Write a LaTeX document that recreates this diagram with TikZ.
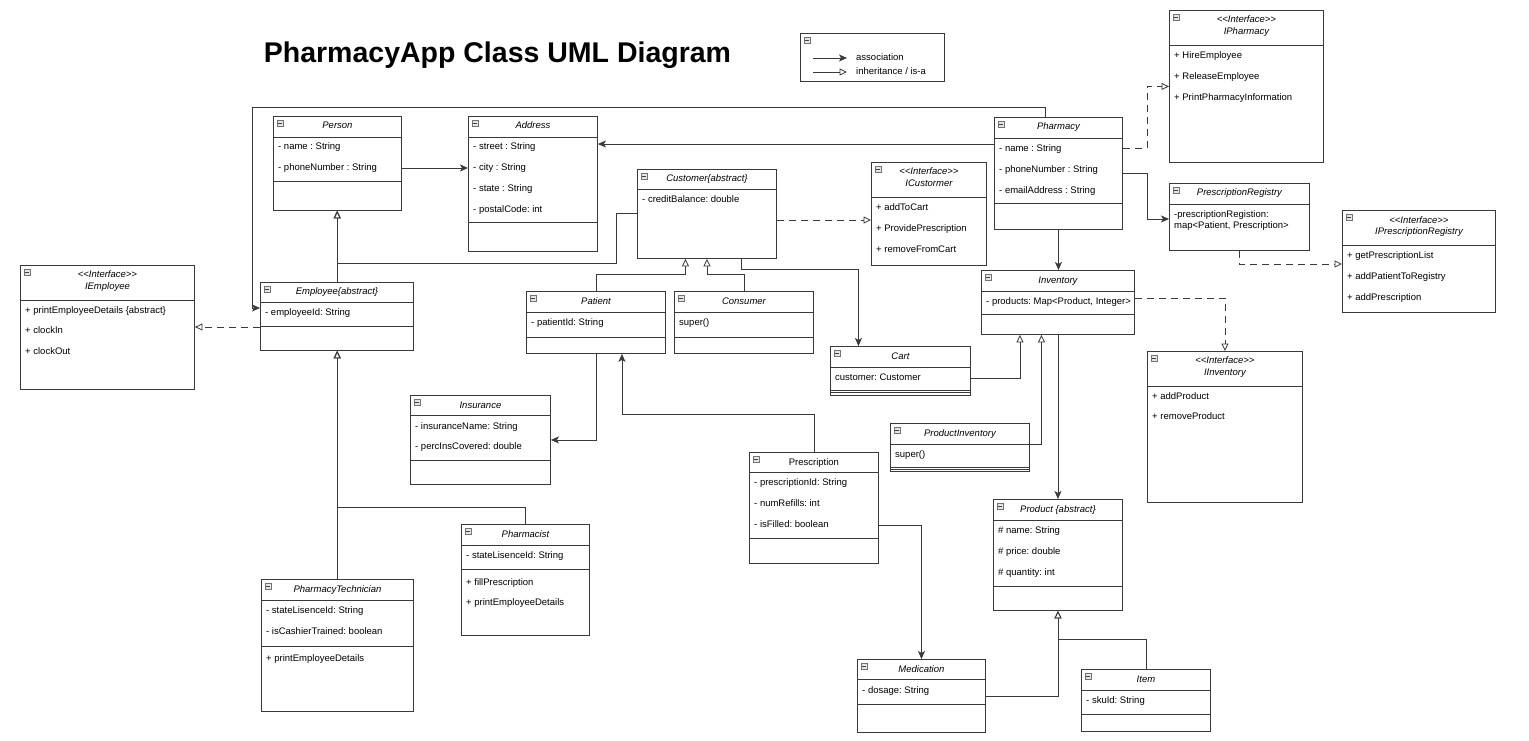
\documentclass[tikz,border=0pt]{standalone}
\usepackage{fontspec}
\setmainfont{Liberation Sans}
\usetikzlibrary{arrows.meta}
\definecolor{linegray}{HTML}{3A3A3A}
\newcommand{\umlfont}{\fontsize{9.5}{11}\selectfont\frenchspacing}
\tikzset{
  cls/.style={draw=linegray, line width=0.9pt, fill=white, anchor=north west, inner sep=0pt,
    path picture={
      \draw[black!55, fill=black!10, line width=0.5pt] ([shift={(3.5pt,-3.5pt)}]path picture bounding box.north west) rectangle ++(6pt,-6pt);
      \draw[black!75, line width=0.6pt] ([shift={(4.8pt,-6.5pt)}]path picture bounding box.north west) -- ++(3.4pt,0pt);}},
  ctitle/.style={font=\umlfont\itshape, inner sep=0pt, text height=7pt, text depth=2pt},
  field/.style={font=\umlfont, anchor=west, inner sep=0pt, text height=7pt, text depth=2pt},
  divider/.style={draw=linegray, line width=0.9pt},
  assoc/.style={draw=linegray, line width=0.8pt, -{Stealth[length=8pt,width=7pt,inset=2pt]}},
  inherit/.style={draw=linegray, line width=0.8pt, -{Triangle[open,length=7.5pt,width=7pt]}},
  realize/.style={inherit, dash pattern=on 7pt off 5pt},
}
\begin{document}
\begin{tikzpicture}[x=1pt, y=-1pt]
    \fill[white] (0,0) rectangle (1529,741);
    \useasboundingbox (0,0) rectangle (1529,741);

    % Titre
    \node[font=\bfseries\fontsize{28.5}{32}\selectfont, anchor=base] (title) at (497.5,63) {PharmacyApp Class UML Diagram};

    % Legende
    \node[cls, minimum width=144, minimum height=48] (legend) at (800,33) {};
    \draw[assoc] ([shift={(13pt,-25pt)}]legend.north west) -- ++(34,0);
    \draw[inherit] ([shift={(13pt,-39pt)}]legend.north west) -- ++(34,0);
    \node[field] at ([shift={(56pt,-25pt)}]legend.north west) {association};
    \node[field] at ([shift={(56pt,-39pt)}]legend.north west) {inheritance / is-a};

    % Person
    \node[cls, minimum width=128, minimum height=94] (person) at (273,116) {};
    \node[ctitle] at ([yshift=-10.5pt]person.north) {Person};
    \draw[divider] (273,137) -- (401,137);
    \draw[divider] (273,181) -- (401,181);
    \node[field] at (278,147) {- name : String};
    \node[field] (person-phone) at (278,168) {- phoneNumber : String};

    % Address
    \node[cls, minimum width=129, minimum height=135] (address) at (468,116) {};
    \node[ctitle] at ([yshift=-10.5pt]address.north) {Address};
    \draw[divider] (468,137) -- (597,137);
    \draw[divider] (468,222) -- (597,222);
    \node[field] at (473,147) {- street : String};
    \node[field] at (473,168) {- city : String};
    \node[field] at (473,189) {- state : String};
    \node[field] at (473,210) {- postalCode: int};

    % Customer
    \node[cls, minimum width=139, minimum height=89] (customer) at (637,169) {};
    \node[ctitle] at ([yshift=-10pt]customer.north) {Customer\{abstract\}};
    \draw[divider] (637,189) -- (776,189);
    \node[field] at (642,200) {- creditBalance: double};

    % ICustomer
    \node[cls, minimum width=115, minimum height=103] (icustomer) at (871,162) {};
    \node[ctitle] at ([yshift=-10.5pt]icustomer.north) {<\kern0pt<Interface>\kern0pt>};
    \node[ctitle] at ([yshift=-21.5pt]icustomer.north) {ICustormer};
    \draw[divider] (871,197) -- (986,197);
    \node[field] at (876,208) {+ addToCart};
    \node[field] at (876,229) {+ ProvidePrescription};
    \node[field] at (876,250) {+ removeFromCart};

    % Pharmacy
    \node[cls, minimum width=128, minimum height=112] (pharmacy) at (994,117) {};
    \node[ctitle] at ([yshift=-10.5pt]pharmacy.north) {Pharmacy};
    \draw[divider] (994,138) -- (1122,138);
    \draw[divider] (994,203) -- (1122,203);
    \node[field] at (999,149) {- name : String};
    \node[field] at (999,170) {- phoneNumber : String};
    \node[field] at (999,191) {- emailAddress : String};

    % IPharmacy
    \node[cls, minimum width=154, minimum height=152] (ipharmacy) at (1169,10) {};
    \node[ctitle] at ([yshift=-10.5pt]ipharmacy.north) {<\kern0pt<Interface>\kern0pt>};
    \node[ctitle] at ([yshift=-22pt]ipharmacy.north) {IPharmacy};
    \draw[divider] (1169,45) -- (1323,45);
    \node[field] at (1174,56) {+ HireEmployee};
    \node[field] at (1174,77) {+ ReleaseEmployee};
    \node[field] at (1174,98) {+ PrintPharmacyInformation};

    % PrescriptionRegistry
    \node[cls, minimum width=140, minimum height=67] (presreg) at (1169,183) {};
    \node[ctitle] at ([yshift=-10.5pt]presreg.north) {PrescriptionRegistry};
    \draw[divider] (1169,204) -- (1309,204);
    \node[field] at (1174,215) {-prescriptionRegistion:};
    \node[field] at (1174,226) {map<Patient, Prescription>};

    % IPrescriptionRegistry
    \node[cls, minimum width=153, minimum height=102] (ipresreg) at (1342,210) {};
    \node[ctitle] at ([yshift=-10.5pt]ipresreg.north) {<\kern0pt<Interface>\kern0pt>};
    \node[ctitle] at ([yshift=-22pt]ipresreg.north) {IPrescriptionRegistry};
    \draw[divider] (1342,245) -- (1495,245);
    \node[field] at (1347,256) {+ getPrescriptionList};
    \node[field] at (1347,277) {+ addPatientToRegistry};
    \node[field] at (1347,298) {+ addPrescription};

    % IEmployee
    \node[cls, minimum width=174, minimum height=124] (iemployee) at (20,265) {};
    \node[ctitle] at ([yshift=-10pt]iemployee.north) {<\kern0pt<Interface>\kern0pt>};
    \node[ctitle] at ([yshift=-22pt]iemployee.north) {IEmployee};
    \draw[divider] (20,300) -- (194,300);
    \node[field] at (25,311) {+ printEmployeeDetails \{abstract\}};
    \node[field] at (25,331) {+ clockIn};
    \node[field] at (25,352) {+ clockOut};

    % Employee
    \node[cls, minimum width=153, minimum height=68] (employee) at (260,282) {};
    \node[ctitle] at ([yshift=-10pt]employee.north) {Employee\{abstract\}};
    \draw[divider] (260,302) -- (413,302);
    \draw[divider] (260,326) -- (413,326);
    \node[field] at (265,313) {- employeeId: String};

    % Patient
    \node[cls, minimum width=139, minimum height=62] (patient) at (526,291) {};
    \node[ctitle] at ([yshift=-10.5pt]patient.north) {Patient};
    \draw[divider] (526,312) -- (665,312);
    \draw[divider] (526,337) -- (665,337);
    \node[field] at (531,323) {- patientId: String};

    % Consumer
    \node[cls, minimum width=139, minimum height=62] (consumer) at (674,291) {};
    \node[ctitle] at ([yshift=-10.5pt]consumer.north) {Consumer};
    \draw[divider] (674,312) -- (813,312);
    \draw[divider] (674,337) -- (813,337);
    \node[field] at (679,323) {super()};

    % Cart
    \node[cls, minimum width=140, minimum height=48.5] (cart) at (830,346) {};
    \node[ctitle] at ([yshift=-10.5pt]cart.north) {Cart};
    \draw[divider] (830,367) -- (970,367);
    \draw[divider] (830,390.5) -- (970,390.5);
    \draw[divider] (830,392.5) -- (970,392.5);
    \node[field] (cart-cust) at (835,378) {customer: Customer};

    % Inventory
    \node[cls, minimum width=153, minimum height=64] (inventory) at (981,270) {};
    \node[ctitle] at ([yshift=-10.5pt]inventory.north) {Inventory};
    \draw[divider] (981,291) -- (1134,291);
    \draw[divider] (981,314) -- (1134,314);
    \node[field] at (986,302) {- products: Map<Product, Integer>};

    % IInventory
    \node[cls, minimum width=155, minimum height=151] (iinventory) at (1147,351) {};
    \node[ctitle] at ([yshift=-10pt]iinventory.north) {<\kern0pt<Interface>\kern0pt>};
    \node[ctitle] at ([yshift=-21.5pt]iinventory.north) {IInventory};
    \draw[divider] (1147,386) -- (1302,386);
    \node[field] at (1152,397) {+ addProduct};
    \node[field] at (1152,417) {+ removeProduct};

    % ProductInventory
    \node[cls, minimum width=139, minimum height=48] (prodinv) at (890,423) {};
    \node[ctitle] at ([yshift=-10.5pt]prodinv.north) {ProductInventory};
    \draw[divider] (890,444) -- (1029,444);
    \draw[divider] (890,467) -- (1029,467);
    \draw[divider] (890,469) -- (1029,469);
    \node[field] at (895,455) {super()};

    % Insurance
    \node[cls, minimum width=140, minimum height=89] (insurance) at (410,395) {};
    \node[ctitle] at ([yshift=-10.5pt]insurance.north) {Insurance};
    \draw[divider] (410,415) -- (550,415);
    \draw[divider] (410,460) -- (550,460);
    \node[field] at (415,427) {- insuranceName: String};
    \node[field] at (415,447) {- percInsCovered: double};

    % Prescription
    \node[cls, minimum width=129, minimum height=111] (prescription) at (749,452) {};
    \node[ctitle, font=\umlfont] at ([yshift=-10.5pt]prescription.north) {Prescription};
    \draw[divider] (749,472) -- (878,472);
    \draw[divider] (749,538) -- (878,538);
    \node[field] at (754,483) {- prescriptionId: String};
    \node[field] at (754,504) {- numRefills: int};
    \node[field] (presc-filled) at (754,525) {- isFilled: boolean};

    % Product
    \node[cls, minimum width=129, minimum height=111] (product) at (993,499) {};
    \node[ctitle] at ([yshift=-10.5pt]product.north) {Product \{abstract\}};
    \draw[divider] (993,520) -- (1122,520);
    \draw[divider] (993,586) -- (1122,586);
    \node[field] at (998,531) {\# name: String};
    \node[field] at (998,552) {\# price: double};
    \node[field] at (998,573) {\# quantity: int};

    % Pharmacist
    \node[cls, minimum width=128, minimum height=111] (pharmacist) at (461,524) {};
    \node[ctitle] at ([yshift=-10.5pt]pharmacist.north) {Pharmacist};
    \draw[divider] (461,545) -- (589,545);
    \draw[divider] (461,569) -- (589,569);
    \node[field] at (466,556) {- stateLisenceId: String};
    \node[field] at (466,583) {+ fillPrescription};
    \node[field] at (466,603) {+ printEmployeeDetails};

    % PharmacyTechnician
    \node[cls, minimum width=152, minimum height=132] (technician) at (261,579) {};
    \node[ctitle] at ([yshift=-10.5pt]technician.north) {PharmacyTechnician};
    \draw[divider] (261,600) -- (413,600);
    \draw[divider] (261,646) -- (413,646);
    \node[field] at (266,611) {- stateLisenceId: String};
    \node[field] at (266,632) {- isCashierTrained: boolean};
    \node[field] at (266,659) {+ printEmployeeDetails};

    % Medication
    \node[cls, minimum width=128, minimum height=73] (medication) at (857,659) {};
    \node[ctitle] at ([yshift=-10.5pt]medication.north) {Medication};
    \draw[divider] (857,679) -- (985,679);
    \draw[divider] (857,704) -- (985,704);
    \node[field] at (862,691) {- dosage: String};

    % Item
    \node[cls, minimum width=129, minimum height=62] (item) at (1081,669) {};
    \node[ctitle] at ([yshift=-10.5pt]item.north) {Item};
    \draw[divider] (1081,690) -- (1210,690);
    \draw[divider] (1081,714) -- (1210,714);
    \node[field] at (1086,701) {- skuId: String};

    % Associations
    \draw[assoc] (person.east |- person-phone) -- (address.west |- person-phone);
    \draw[assoc] (pharmacy.west |- 0,144) -- (address.east |- 0,144);
    \draw[assoc] ([xshift=-13pt]pharmacy.north) |- (252,107) |- (employee.west |- 0,308);
    \draw[assoc] ([xshift=34pt]customer.south) -- ++(0,10) -| ([xshift=-42pt]cart.north);
    \draw[assoc] (patient.south) |- (insurance.east);
    \draw[assoc] (prescription.north) -- ++(0,-38) -| ([xshift=26pt]patient.south);
    \draw[assoc] (prescription.east |- presc-filled) -| (medication.north);
    \draw[assoc] (pharmacy.south) -- (pharmacy.south |- inventory.north);
    \draw[assoc] (inventory.south) -- (product.north);
    \draw[assoc] (pharmacy.east |- 0,173) -- ++(24,0) |- (presreg.west |- 0,219);

    % Heritage
    \draw[inherit] (employee.north) -- (employee.north |- person.south);
    \draw[inherit] (customer.west |- 0,213) -| (616,263) -| (person.south);
    \draw[inherit] (patient.north) -- ++(0,-17) -| ([xshift=-21.5pt]customer.south);
    \draw[inherit] (consumer.north) -- ++(0,-17) -| (customer.south);
    \draw[inherit] (technician.north) -- (technician.north |- employee.south);
    \draw[inherit] (pharmacist.north) -- ++(0,-17) -| (employee.south);
    \draw[inherit] (cart.east |- cart-cust) -| ([xshift=-38pt]inventory.south);
    \draw[inherit] (prodinv.east |- 0,444) -| ([xshift=-16.5pt]inventory.south);
    \draw[inherit] (medication.east |- 0,696) -| (product.south);
    \draw[inherit] (item.north) -- ++(0,-30) -| (product.south);

    % Interfaces
    \draw[realize] (employee.west |- 0,327) -- (iemployee.east |- 0,327);
    \draw[realize] (customer.east |- 0,220) -- (icustomer.west |- 0,220);
    \draw[realize] (pharmacy.east |- 0,148) -- ++(24,0) |- (ipharmacy.west);
    \draw[realize] (presreg.south) |- (ipresreg.west |- 0,264);
    \draw[realize] (inventory.east |- 0,298) -| (iinventory.north);
\end{tikzpicture}
\end{document}
